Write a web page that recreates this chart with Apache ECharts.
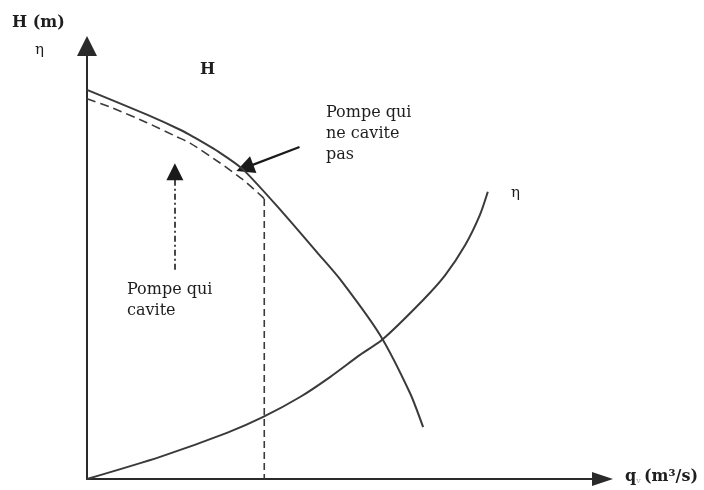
<!DOCTYPE html>
<html>
<head>
<meta charset="utf-8">
<title>Courbes H et η d'une pompe</title>
<script src="https://cdn.jsdelivr.net/npm/echarts@6/dist/echarts.min.js"></script>
<style>
  html, body { margin: 0; padding: 0; background: #fff; }
  #chart { width: 704px; height: 490px; }
</style>
</head>
<body>
<div id="chart"></div>
<script>
// Hauteur H d'une pompe qui ne cavite pas (débit q, hauteur H en unités relatives)
const hNonCavitante = [
  [0, 87.8], [11.4, 82.2], [17.7, 78.8], [20.2, 77.2], [25.3, 73.6],
  [29.7, 69.8], [37.3, 60.0], [43.7, 51.2], [48.1, 45.1],
  [55.7, 32.5], [61.4, 19.4], [63.9, 11.7]
];
// Hauteur H d'une pompe qui cavite : décroche au débit limite
const hCavitante = [
  [0, 85.8], [4.9, 83.7], [11.4, 80.4], [17.1, 77.2], [19.6, 75.8],
  [25.3, 71.3], [29.7, 67.5], [33.3, 63.7], [33.7, 63.2]
];
// Débit limite de cavitation (verticale tiretée)
const debitLimite = [[33.7, 63.2], [33.7, 0]];
// Rendement η
const rendement = [
  [0, 0], [13.9, 5.0], [26.6, 10.4], [33.5, 14.0], [40.5, 18.5],
  [46.2, 23.0], [51.9, 28.0], [56.1, 31.4], [63.9, 40.4], [68.1, 46.0],
  [71.9, 52.8], [74.7, 59.6], [76.2, 64.8]
];
// Flèches d'annotation [départ, pointe]
const flecheNonCavite = [[40.4, 74.9], [30.0, 70.2]];
const flecheCavite = [[16.7, 47.2], [16.7, 69.3]];

// Textes
const titreAxeY = 'H (m)';
const symboleEta = 'η';
const etiquetteH = 'H';
const texteNonCavite = 'Pompe qui\nne cavite\npas';
const texteCavite = 'Pompe qui\ncavite';

const ink = '#3a3a3a';
const axisInk = '#2a2a2a';
const arrowInk = '#1a1a1a';
const textInk = '#1e1e1e';
const serif = '"DejaVu Serif", "Liberation Serif", serif';

const chart = echarts.init(document.getElementById('chart'));

chart.setOption({
  backgroundColor: '#fff',
  animation: false,
  grid: { left: 87, right: 101.5, top: 46, bottom: 11 },
  xAxis: {
    type: 'value', min: 0, max: 98,
    axisLine: {
      show: true, onZero: false,
      lineStyle: { color: axisInk, width: 2 },
      symbol: ['none', 'triangle'], symbolSize: [14, 21]
    },
    axisTick: { show: false }, axisLabel: { show: false }, splitLine: { show: false }
  },
  yAxis: {
    type: 'value', min: 0, max: 97.7,
    axisLine: {
      show: true, onZero: false,
      lineStyle: { color: axisInk, width: 2 },
      symbol: ['none', 'triangle'], symbolSize: [20, 20]
    },
    axisTick: { show: false }, axisLabel: { show: false }, splitLine: { show: false }
  },
  series: [
    {
      name: 'H', type: 'line', data: hNonCavitante, smooth: 0.25,
      showSymbol: false, lineStyle: { color: ink, width: 2 }
    },
    {
      name: 'H cavitation', type: 'line', data: hCavitante, smooth: 0.2,
      showSymbol: false, lineStyle: { color: ink, width: 1.6, type: [9, 5] }
    },
    {
      name: 'débit limite', type: 'line', data: debitLimite,
      showSymbol: false, lineStyle: { color: ink, width: 1.6, type: [7, 4] }
    },
    {
      name: 'η', type: 'line', data: rendement, smooth: 0.25,
      showSymbol: false, lineStyle: { color: ink, width: 2 }
    },
    {
      name: 'flèche non cavitante', type: 'lines', coordinateSystem: 'cartesian2d',
      symbol: ['none', 'triangle'], symbolSize: [13, 18],
      lineStyle: { color: arrowInk, width: 2.2, opacity: 1, curveness: 0 },
      data: [{ coords: flecheNonCavite }]
    },
    {
      name: 'flèche cavitante', type: 'lines', coordinateSystem: 'cartesian2d',
      symbol: ['none', 'triangle'], symbolSize: [17, 17],
      lineStyle: { color: arrowInk, width: 1.6, opacity: 1, type: [6, 3, 2, 3], curveness: 0 },
      data: [{ coords: flecheCavite }]
    }
  ],
  graphic: [
    { type: 'text', left: 12, top: 15,
      style: { text: titreAxeY, font: 'bold 16px ' + serif, fill: textInk } },
    { type: 'text', left: 35, top: 43,
      style: { text: symboleEta, font: '15px ' + serif, fill: textInk } },
    { type: 'text', left: 200, top: 62,
      style: { text: etiquetteH, font: 'bold 16px ' + serif, fill: textInk } },
    { type: 'text', left: 326, top: 102,
      style: { text: texteNonCavite, font: '16px ' + serif, lineHeight: 21, fill: textInk } },
    { type: 'text', left: 127, top: 279,
      style: { text: texteCavite, font: '16px ' + serif, lineHeight: 21, fill: textInk } },
    { type: 'text', left: 511, top: 186,
      style: { text: symboleEta, font: '15px ' + serif, fill: textInk } },
    { type: 'text', left: 625, top: 469,
      style: {
        text: '{q|q}{v|v} {b|(m³/s)}',
        rich: {
          q: { font: 'bold 16px ' + serif, fill: textInk },
          v: { font: '8px ' + serif, fill: '#aaa', verticalAlign: 'bottom', padding: [8, 0, 0, 0] },
          b: { font: 'bold 16px ' + serif, fill: textInk }
        }
      } }
  ]
});
</script>
</body>
</html>
